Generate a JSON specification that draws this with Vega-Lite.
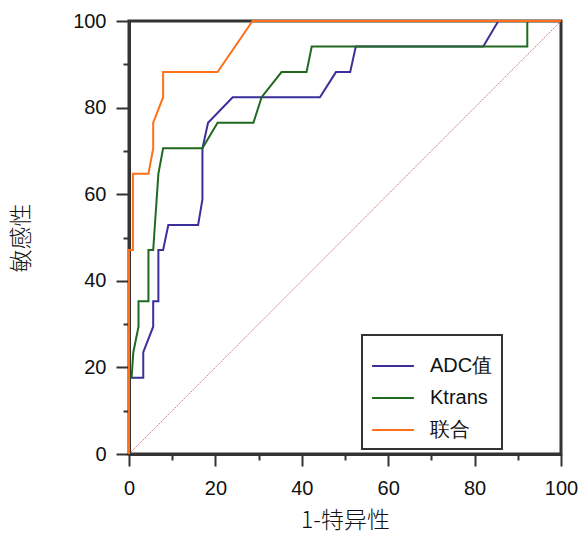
{
  "$schema": "https://vega.github.io/schema/vega-lite/v6.json",
  "width": 432,
  "height": 433,
  "autosize": {"type": "none"},
  "padding": {"left": 129, "top": 21, "right": 24, "bottom": 84},
  "background": "white",
  "config": {
    "view": {"stroke": "#333333", "strokeWidth": 3},
    "legend": {"strokeWidth": 2},
    "axis": {
      "grid": false,
      "domainColor": "#333333",
      "domainWidth": 3,
      "tickColor": "#333333",
      "tickWidth": 2,
      "labelFont": "Liberation Sans",
      "labelFontSize": 20,
      "labelColor": "#111111",
      "titleFont": "Noto Sans CJK SC",
      "titleFontWeight": 300,
      "titleFontSize": 23,
      "titleColor": "#111111"
    }
  },
  "datasets": {
    "roc": [
      {"series": "ADC值", "o": 0, "fpr": 0, "sens": 0},
      {"series": "ADC值", "o": 1, "fpr": 0, "sens": 17.6},
      {"series": "ADC值", "o": 2, "fpr": 3.3, "sens": 17.6},
      {"series": "ADC值", "o": 3, "fpr": 3.3, "sens": 23.5},
      {"series": "ADC值", "o": 4, "fpr": 5.6, "sens": 29.4},
      {"series": "ADC值", "o": 5, "fpr": 5.6, "sens": 35.3},
      {"series": "ADC值", "o": 6, "fpr": 6.8, "sens": 35.3},
      {"series": "ADC值", "o": 7, "fpr": 6.8, "sens": 47.1},
      {"series": "ADC值", "o": 8, "fpr": 7.9, "sens": 47.1},
      {"series": "ADC值", "o": 9, "fpr": 9.1, "sens": 52.9},
      {"series": "ADC值", "o": 10, "fpr": 16.0, "sens": 52.9},
      {"series": "ADC值", "o": 11, "fpr": 17.0, "sens": 58.8},
      {"series": "ADC值", "o": 12, "fpr": 17.0, "sens": 70.6},
      {"series": "ADC值", "o": 13, "fpr": 18.3, "sens": 76.5},
      {"series": "ADC值", "o": 14, "fpr": 24.0, "sens": 82.4},
      {"series": "ADC值", "o": 15, "fpr": 44.2, "sens": 82.4},
      {"series": "ADC值", "o": 16, "fpr": 47.9, "sens": 88.2},
      {"series": "ADC值", "o": 17, "fpr": 51.2, "sens": 88.2},
      {"series": "ADC值", "o": 18, "fpr": 52.5, "sens": 94.1},
      {"series": "ADC值", "o": 19, "fpr": 82.0, "sens": 94.1},
      {"series": "ADC值", "o": 20, "fpr": 85.5, "sens": 100},
      {"series": "ADC值", "o": 21, "fpr": 100, "sens": 100},
      {"series": "Ktrans", "o": 0, "fpr": 0, "sens": 0},
      {"series": "Ktrans", "o": 1, "fpr": 0, "sens": 17.6},
      {"series": "Ktrans", "o": 2, "fpr": 0.6, "sens": 17.6},
      {"series": "Ktrans", "o": 3, "fpr": 1.0, "sens": 23.5},
      {"series": "Ktrans", "o": 4, "fpr": 2.2, "sens": 29.4},
      {"series": "Ktrans", "o": 5, "fpr": 2.2, "sens": 35.3},
      {"series": "Ktrans", "o": 6, "fpr": 4.5, "sens": 35.3},
      {"series": "Ktrans", "o": 7, "fpr": 4.5, "sens": 47.1},
      {"series": "Ktrans", "o": 8, "fpr": 5.6, "sens": 47.1},
      {"series": "Ktrans", "o": 9, "fpr": 6.8, "sens": 64.7},
      {"series": "Ktrans", "o": 10, "fpr": 7.9, "sens": 70.6},
      {"series": "Ktrans", "o": 11, "fpr": 17.0, "sens": 70.6},
      {"series": "Ktrans", "o": 12, "fpr": 20.5, "sens": 76.5},
      {"series": "Ktrans", "o": 13, "fpr": 28.8, "sens": 76.5},
      {"series": "Ktrans", "o": 14, "fpr": 30.7, "sens": 82.4},
      {"series": "Ktrans", "o": 15, "fpr": 35.3, "sens": 88.2},
      {"series": "Ktrans", "o": 16, "fpr": 41.1, "sens": 88.2},
      {"series": "Ktrans", "o": 17, "fpr": 42.3, "sens": 94.1},
      {"series": "Ktrans", "o": 18, "fpr": 92.2, "sens": 94.1},
      {"series": "Ktrans", "o": 19, "fpr": 92.2, "sens": 100},
      {"series": "Ktrans", "o": 20, "fpr": 100, "sens": 100},
      {"series": "联合", "o": 0, "fpr": 0, "sens": 0},
      {"series": "联合", "o": 1, "fpr": 0, "sens": 47.1},
      {"series": "联合", "o": 2, "fpr": 0.9, "sens": 47.1},
      {"series": "联合", "o": 3, "fpr": 0.9, "sens": 64.7},
      {"series": "联合", "o": 4, "fpr": 4.5, "sens": 64.7},
      {"series": "联合", "o": 5, "fpr": 5.6, "sens": 70.6},
      {"series": "联合", "o": 6, "fpr": 5.6, "sens": 76.5},
      {"series": "联合", "o": 7, "fpr": 7.9, "sens": 82.4},
      {"series": "联合", "o": 8, "fpr": 7.9, "sens": 88.2},
      {"series": "联合", "o": 9, "fpr": 20.5, "sens": 88.2},
      {"series": "联合", "o": 10, "fpr": 28.6, "sens": 100},
      {"series": "联合", "o": 11, "fpr": 100, "sens": 100}
    ],
    "diag": [
      {"fpr": 0, "sens": 0},
      {"fpr": 100, "sens": 100}
    ]
  },
  "layer": [
    {
      "data": {"name": "diag"},
      "mark": {"type": "line", "color": "#c0504d", "strokeWidth": 0.8, "strokeDash": [1.5, 1]},
      "encoding": {
        "x": {"field": "fpr", "type": "quantitative"},
        "y": {"field": "sens", "type": "quantitative"}
      }
    },
    {
      "data": {"name": "roc"},
      "mark": {"type": "line", "strokeWidth": 2},
      "encoding": {
        "x": {
          "field": "fpr", "type": "quantitative",
          "scale": {"domain": [0, 100], "nice": false, "zero": false},
          "axis": {
            "title": "1-特异性",
            "values": [0, 10, 20, 30, 40, 50, 60, 70, 80, 90, 100],
            "labelExpr": "datum.value % 20 === 0 ? datum.label : ''",
            "tickSize": {"condition": {"test": "datum.value % 20 === 0", "value": 12}, "value": 6},
            "labelPadding": 12,
            "labelFlush": false,
            "titlePadding": 11
          }
        },
        "y": {
          "field": "sens", "type": "quantitative",
          "scale": {"domain": [0, 100], "nice": false, "zero": false},
          "axis": {
            "title": "敏感性",
            "values": [0, 10, 20, 30, 40, 50, 60, 70, 80, 90, 100],
            "labelExpr": "datum.value % 20 === 0 ? datum.label : ''",
            "tickSize": {"condition": {"test": "datum.value % 20 === 0", "value": 13}, "value": 6},
            "labelPadding": 10,
            "labelFlush": false,
            "titlePadding": 39
          }
        },
        "order": {"field": "o", "type": "quantitative"},
        "color": {
          "field": "series", "type": "nominal",
          "scale": {"domain": ["ADC值", "Ktrans", "联合"], "range": ["#3b2f9a", "#1f6a1f", "#ff7018"]},
          "legend": {
            "title": null,
            "orient": "none",
            "legendX": 233,
            "legendY": 314,
            "direction": "vertical",
            "strokeColor": "#333333",
            "fillColor": "white",
            "padding": 9,
            "symbolType": "stroke",
            "symbolSize": 1750,
            "symbolStrokeWidth": 2,
            "labelFont": "Liberation Sans",
            "labelFontSize": 20,
            "labelColor": "#111111",
            "labelOffset": 15,
            "rowPadding": -22,
            "labelLimit": 300,
            "labelExpr": "datum.label + '\u00a0\u00a0\u00a0\u00a0\u00a0\u00a0\u00a0\u00a0\u00a0\u00a0\u00a0\u00a0'"
          }
        }
      }
    }
  ]
}
